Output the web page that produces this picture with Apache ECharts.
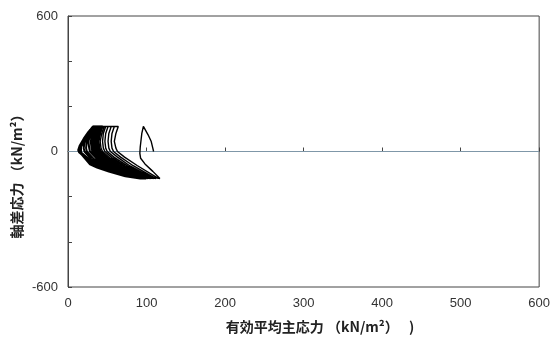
<!DOCTYPE html>
<html>
<head>
<meta charset="utf-8">
<script src="https://cdn.jsdelivr.net/npm/echarts@6/dist/echarts.min.js"></script>
<style>
  html, body { margin: 0; padding: 0; background: #fff; }
  #chart { width: 553px; height: 343px; }
</style>
</head>
<body>
<div id="chart"></div>
<script>
  // 有効平均主応力 p' と 軸差応力 q の経路 (kN/m2)、図から読み取り
  const cycle1 = [[109,0],[108,15],[106,44],[102,74],[96,111],[94,80],[93,50],[92,20],[91.5,-8],[92.5,-30],[98,-55],[108,-88],[117,-120],
                  [96,-104],[72,-86],[50,-67],[36,-50],[24,-24],[17,-4],[15,0]];
  const cycle2 = [[17,25],[22,55],[27,85],[32,111],[64,111],[61,80],[59,45],[61,15],[63,0],[72,-25],[88,-62],[115,-119],
                  [94,-104],[70,-85],[49,-66],[35,-50],[23,-23],[16,-4],[15,0]];
  const cycle3 = [[17,25],[22,55],[27,85],[32,111],[59,111],[56,80],[55,45],[56,15],[58,0],[67,-25],[83,-63],[112,-120],
                  [92,-105],[68,-85],[48,-66],[35,-51],[23,-23],[16,-4],[15,0]];
  const cycle4 = [[16,25],[21,55],[27,85],[32,111],[55,111],[52,80],[51,45],[52,15],[54,0],[63,-25],[79,-64],[109,-120],
                  [90,-105],[66,-85],[47,-66],[34,-51],[22,-22],[16,-4],[14,0]];
  const cycle5 = [[16,25],[21,55],[27,85],[32,111],[51,111],[48,80],[47,45],[48,15],[50,0],[59,-26],[76,-65],[106,-120],
                  [88,-105],[64,-85],[46,-66],[34,-52],[22,-22],[16,-4],[14,1]];
  const cycle6 = [[16,25],[21,55],[27,85],[32,111],[48,111],[45,80],[44,45],[45,15],[47,0],[56,-27],[73,-66],[104,-120],
                  [86,-106],[63,-85],[45,-66],[33,-52],[22,-21],[16,-4],[14,1]];
  const cycle7 = [[16,25],[21,55],[27,85],[32,111],[46,111],[43,80],[41,45],[42,15],[44,0],[53,-28],[71,-67],[102,-120],
                  [84,-106],[62,-85],[44,-67],[33,-53],[21,-21],[15,-3],[14,2]];
  const cycle8 = [[16,25],[21,55],[27,85],[32,111],[44,111],[41,80],[39,45],[40,15],[42,0],[51,-28],[69,-68],[100,-120],
                  [82,-106],[60,-85],[43,-67],[32,-53],[21,-21],[15,-3],[14,2]];
  const cycle9 = [[16,26],[21,56],[27,86],[32,111],[42,111],[39,80],[37,45],[38,15],[40,0],[49,-29],[67,-69],[98,-120],
                  [80,-106],[59,-85],[42,-67],[32,-54],[21,-20],[15,-3],[14,3]];
  const cycle10 = [[16,26],[21,56],[27,86],[32,111],[40,111],[37,80],[35,45],[36,15],[38,0],[47,-30],[65,-70],[97,-120],
                   [79,-107],[58,-86],[42,-68],[31,-54],[20,-20],[15,-3],[13,3]];
  const cycle11 = [[15,26],[20,56],[26,86],[32,111],[38,111],[35,80],[33,45],[34,15],[36,0],[45,-31],[63,-71],[96,-120],
                   [78,-107],[57,-86],[41,-68],[31,-55],[20,-19],[15,-3],[13,4]];
  const cycle12 = [[15,26],[20,56],[26,86],[32,111],[36,111],[33,80],[31,45],[32,15],[34,0],[43,-32],[61,-72],[95,-120],
                   [77,-108],[56,-87],[40,-69],[30,-55],[20,-19],[14,-3],[13,5]];
  const cycle13 = [[15,27],[20,57],[26,86],[32,111],[35,111],[31,80],[29,45],[30,15],[31,0],[40,-32],[58,-73],[94,-120],
                   [76,-108],[55,-87],[40,-69],[30,-56],[19,-18],[14,-3],[13,6]];
  const cycle14 = [[15,27],[20,57],[26,87],[32,111],[34,111],[29,80],[26,45],[27,15],[28,0],[37,-33],[55,-74],[93,-120],
                   [75,-109],[54,-88],[39,-70],[29,-56],[19,-18],[14,-3],[14,8]];
  const cycle15 = [[17,30],[21,55],[26,85],[31,108],[27,80],[24,45],[23,15],[24,0],[33,-34],[52,-75],[92,-120],
                   [74,-109],[53,-88],[38,-70],[29,-56],[19,-17],[14,-2],[15,10]];
  const cycle16 = [[19,35],[23,60],[28,95],[25,70],[21,40],[20,15],[21,0],[30,-36],[50,-76],[92,-120],
                   [73,-110],[52,-89],[37,-71],[28,-57],[18,-16],[14,-2]];

  // 初期の数サイクル (細線) と 後半の密なサイクル
  const earlyPath = [].concat(cycle1, cycle2, cycle3, cycle4, cycle5, cycle6, cycle7);
  const densePath = [].concat(cycle7.slice(-1), cycle8, cycle9, cycle10, cycle11, cycle12, cycle13, cycle14, cycle15, cycle16);
  const zeroLine = [[0, 0], [600, 0]];

  const xTicks = [0, 100, 200, 300, 400, 500, 600];
  const yLabels = [-600, 0, 600];

  const myChart = echarts.init(document.getElementById('chart'));
  const axisText = { color: '#333', fontSize: 13, fontFamily: 'Liberation Sans, Arial, sans-serif' };
  const option = {
    animation: false,
    grid: { left: 68, right: 13, top: 16, bottom: 56, show: true, borderColor: '#444', borderWidth: 1 },
    xAxis: {
      type: 'value', min: 0, max: 600, interval: 100,
      axisLine: { lineStyle: { color: '#444' } },
      axisTick: { inside: true, length: 4, lineStyle: { color: '#444' } },
      splitLine: { show: false },
      axisLabel: Object.assign({ margin: 10, formatter: v => xTicks.includes(v) ? v : '' }, axisText)
    },
    yAxis: {
      type: 'value', min: -600, max: 600, interval: 200,
      axisLine: { lineStyle: { color: '#444' } },
      axisTick: { inside: true, length: 4, lineStyle: { color: '#444' } },
      splitLine: { show: false },
      axisLabel: Object.assign({ margin: 10, formatter: v => yLabels.includes(v) ? v : '' }, axisText)
    },
    graphic: [
      {
        type: 'text', x: 320, y: 327,
        style: { text: '有効平均主応力 （kN/m²）　 )', textAlign: 'center', textVerticalAlign: 'middle',
                 fill: '#222', font: 'bold 14px "Noto Sans CJK JP", sans-serif' }
      },
      {
        type: 'text', x: 17, y: 173, rotation: Math.PI / 2,
        style: { text: '軸差応力 （kN/m²）', textAlign: 'center', textVerticalAlign: 'middle',
                 fill: '#222', font: 'bold 14px "Noto Sans CJK JP", sans-serif' }
      }
    ],
    series: [
      {
        type: 'line', data: zeroLine, showSymbol: false, silent: true, z: 1,
        lineStyle: { color: '#7f97a8', width: 1 }
      },
      {
        type: 'line', data: earlyPath, showSymbol: false, z: 2,
        lineStyle: { color: '#000', width: 1.4 }
      },
      {
        type: 'line', data: densePath, showSymbol: false, z: 3,
        lineStyle: { color: '#000', width: 2 }
      }
    ]
  };
  myChart.setOption(option);
</script>
</body>
</html>
